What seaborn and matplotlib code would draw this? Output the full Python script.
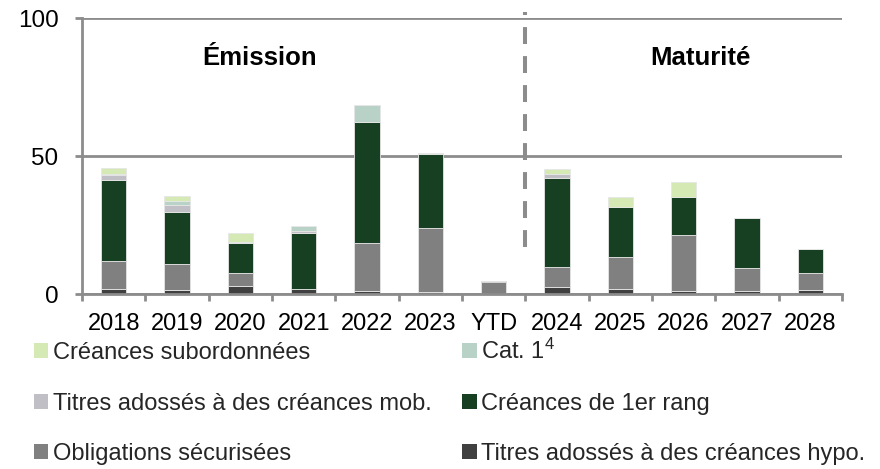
import numpy as np
import pandas as pd
import matplotlib
matplotlib.use("Agg")
import matplotlib.pyplot as plt
import seaborn as sns
from matplotlib.patches import Patch


cats = ["2018", "2019", "2020", "2021", "2022", "2023", "YTD",
        "2024", "2025", "2026", "2027", "2028"]

# stacked from bottom to top
hypo = [1.8, 1.6, 2.9, 1.8, 1.2, 0.8, 0.0, 2.4, 1.7, 1.0, 1.0, 1.3]
oblig = [10.2, 9.3, 4.6, 0.0, 17.4, 23.0, 4.2, 7.3, 11.8, 20.5, 8.4, 6.3]
premier = [29.3, 18.7, 10.9, 20.3, 43.6, 27.0, 0.6, 32.5, 18.2, 13.8, 18.0, 8.6]
mob = [1.7, 2.6, 0.2, 0.7, 0.0, 0.0, 0.0, 1.3, 0.0, 0.0, 0.0, 0.0]
cat1 = [0.5, 1.5, 0.1, 1.8, 6.3, 0.3, 0.0, 0.0, 0.0, 0.0, 0.0, 0.0]
subord = [2.0, 1.8, 3.3, 0.0, 0.0, 0.0, 0.0, 1.7, 3.3, 5.2, 0.0, 0.0]

series = [
    ("Titres adossés à des créances hypo.", hypo, "#404040"),
    ("Obligations sécurisées", oblig, "#808080"),
    ("Créances de 1er rang", premier, "#173f22"),
    ("Titres adossés à des créances mob.", mob, "#c0bfc6"),
    ("Cat. 1$^{4}$", cat1, "#b8d2c7"),
    ("Créances subordonnées", subord, "#d5e9b5"),
]

sns.set_theme(style="white")
plt.rcParams["font.family"] = ["Liberation Sans", "DejaVu Sans"]
plt.rcParams["mathtext.fontset"] = "custom"
plt.rcParams["mathtext.rm"] = "Liberation Sans"
plt.rcParams["mathtext.it"] = "Liberation Sans"
grey = "#8c8c8c"

fig, ax = plt.subplots(figsize=(8.8, 4.69), dpi=100)
fig.subplots_adjust(left=0.0932, right=0.9568, top=0.9616, bottom=0.3731)

bottom = np.zeros(len(cats))
for name, vals, col in series:
    df = pd.DataFrame({"cat": cats, "val": vals})
    sns.barplot(data=df, x="cat", y="val", color=col, width=0.4, bottom=bottom,
                errorbar=None, ax=ax, edgecolor="#e6e6e6", linewidth=0.6,
                saturation=1, zorder=3)
    bottom = bottom + np.array(vals)

ax.set_xlim(-0.5, len(cats) - 0.5)
ax.set_ylim(0, 100)
ax.set_yticks([0, 50, 100])
ax.set_xlabel("")
ax.set_ylabel("")

ax.yaxis.grid(True, color=grey, linewidth=2, zorder=0)
ax.set_axisbelow(True)
for s in ["top", "right"]:
    ax.spines[s].set_visible(False)
for s in ["left", "bottom"]:
    ax.spines[s].set_color(grey)
    ax.spines[s].set_linewidth(2)
    ax.spines[s].set_zorder(4)

ax.tick_params(axis="y", length=5, width=2, color=grey, direction="out",
               pad=12, labelsize=17.5, left=True)
ax.tick_params(axis="x", which="major", length=0, pad=14, labelsize=17)
ax.set_xticks(np.arange(-0.5, len(cats) + 0.5, 1), minor=True)
ax.tick_params(axis="x", which="minor", length=5, width=2, color=grey,
               direction="out", bottom=True)
for t in ax.get_xticklabels() + ax.get_yticklabels():
    t.set_color("black")

# separator between issuance and maturity
ax.axvline(6.5, ymin=0.17, ymax=1.02, color=grey, linewidth=2.9,
           linestyle=(0, (4.2, 3)), clip_on=False, zorder=5)

ax.text(2.3, 85.5, "Émission", ha="center", va="center", fontsize=18.5,
        fontweight="bold", color="black")
ax.text(9.26, 85.5, "Maturité", ha="center", va="center", fontsize=18.5,
        fontweight="bold", color="black")

# legend, column-major fill with two columns
cols = {name: col for name, _, col in series}
order = ["Créances subordonnées", "Titres adossés à des créances mob.",
         "Obligations sécurisées", "Cat. 1$^{4}$", "Créances de 1er rang",
         "Titres adossés à des créances hypo."]
handles = [Patch(facecolor=cols[n], edgecolor="none", label=n) for n in order]
fig.legend(handles=handles, ncol=2, loc="upper left",
           bbox_to_anchor=(34 / 880, 1 - 339 / 469), frameon=False,
           fontsize=17, handlelength=0.6, handleheight=0.6,
           handletextpad=0.2, columnspacing=1.3, labelspacing=1.2,
           borderpad=0, borderaxespad=0)

plt.savefig("out.png", dpi=100)
plt.close()
